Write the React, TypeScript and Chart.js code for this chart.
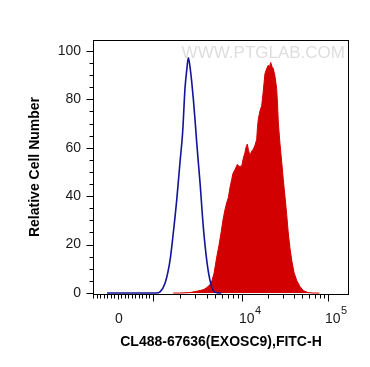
import React, { useEffect, useRef } from "react";
import { Chart, registerables } from "chart.js";

Chart.register(...registerables);

// ---- data (x in logicle display units: 10^4 -> 4, 10^5 -> 5) ----
const controlX = [2.43, 3.0, 3.047, 3.105, 3.163, 3.201, 3.241, 3.279, 3.31, 3.337, 3.357, 3.376, 3.395, 3.415, 3.434, 3.453, 3.473, 3.492, 3.512, 3.55, 3.59, 3.628, 3.666, 3.721, 3.76];
const controlY = [0, 0, 0.5, 4.0, 13.5, 24.8, 38.5, 54, 66.5, 84.4, 91.9, 97.2, 93.5, 87.3, 80.2, 71.9, 62.3, 54, 45.6, 27.3, 13.5, 5.2, 1, 0, 0];

const sampleX = [3.2, 3.279, 3.395, 3.453, 3.512, 3.558, 3.593, 3.628, 3.651, 3.674, 3.706, 3.733, 3.756, 3.779, 3.802, 3.822, 3.841, 3.86, 3.88, 3.895, 3.919, 3.945, 3.965, 3.997, 4.012, 4.035, 4.047, 4.062, 4.073, 4.093, 4.11, 4.131, 4.151, 4.171, 4.18, 4.19, 4.209, 4.229, 4.244, 4.267, 4.287, 4.306, 4.32, 4.334, 4.349, 4.364, 4.384, 4.403, 4.413, 4.422, 4.442, 4.462, 4.48, 4.5, 4.52, 4.538, 4.558, 4.578, 4.605, 4.636, 4.674, 4.713, 4.767, 4.826, 4.9];
const sampleY = [0, 0, 0.2, 0.6, 1.0, 1.5, 2.3, 3.5, 5.2, 8.0, 14.8, 19.8, 24.8, 30.2, 34.4, 37.3, 39.4, 43.5, 46.9, 49.4, 51.0, 53.1, 52.3, 52.4, 55.2, 58.1, 60.2, 61.5, 59.4, 56.6, 58.5, 59.4, 61.0, 63.5, 68.5, 71.9, 75.2, 77.4, 82.3, 90.6, 92.7, 94.1, 93.5, 95.2, 93.5, 92.7, 89.4, 84.4, 78.1, 70.6, 61.5, 54.0, 46.9, 39.8, 32.3, 24.8, 18.5, 13.5, 8.5, 5.2, 2.7, 1.0, 0.2, 0, 0];

const yTickValues = [0, 20, 40, 60, 80, 100];
const yMinorStep = 5;

const xLabelValues = [0, 10000, 100000];
const xLabelBase = ["0", "10", "10"];
const xLabelExp = ["", "4", "5"];
const xMajorValues = [0, 1000, 10000, 100000];

// axis calibration (value -> display units)
const anchorV = [0, 1000, 10000, 100000];
const anchorU = [2.558, 2.965, 4, 5];

const X_MIN = 2.2674;
const X_MAX = 5.2442;
const Y_MIN = -0.4;
const Y_MAX = 104.5;

const FONT = '"Liberation Sans", Arial, sans-serif';

function toDisplay(v: number): number {
  if (v <= anchorV[1]) {
    return anchorU[0] + (v / anchorV[1]) * (anchorU[1] - anchorU[0]);
  }
  for (let i = 1; i < anchorV.length - 1; i++) {
    if (v <= anchorV[i + 1]) {
      const t = Math.log10(v / anchorV[i]) / Math.log10(anchorV[i + 1] / anchorV[i]);
      return anchorU[i] + t * (anchorU[i + 1] - anchorU[i]);
    }
  }
  return anchorU[anchorU.length - 1] + Math.log10(v / anchorV[anchorV.length - 1]);
}

function minorTickValues(): number[] {
  const out: number[] = [];
  for (let k = -9; k <= 9; k++) if (k !== 0) out.push(k * 100);
  for (const d of [1000, 10000, 100000]) for (let k = 2; k <= 9; k++) out.push(k * d);
  return out;
}

const axesPlugin = {
  id: "flowAxes",
  beforeDatasetsDraw(chart: any) {
    const { ctx, chartArea: a } = chart;
    ctx.save();
    ctx.font = `17px ${FONT}`;
    ctx.fillStyle = "#dedede";
    ctx.textAlign = "right";
    ctx.textBaseline = "alphabetic";
    ctx.fillText("WWW.PTGLAB.COM", a.right - 4, a.top + 18);
    ctx.restore();
  },
  afterDraw(chart: any) {
    const { ctx, chartArea: a, scales } = chart;
    const xs = scales.x;
    const ys = scales.y;
    ctx.save();
    ctx.strokeStyle = "#000";
    ctx.lineWidth = 1;
    const L = Math.round(a.left), T = Math.round(a.top), R = Math.round(a.right), B = Math.round(a.bottom);
    ctx.strokeRect(L + 0.5, T + 0.5, R - L - 1, B - T);
    ctx.beginPath();
    for (let v = 0; v <= 100; v += yMinorStep) {
      const y = Math.round(ys.getPixelForValue(v)) + 0.5;
      const len = v % 20 === 0 ? 7 : 4;
      ctx.moveTo(L + 0.5 - len, y);
      ctx.lineTo(L + 0.5, y);
    }
    const drawX = (v: number, len: number) => {
      const px = Math.round(xs.getPixelForValue(toDisplay(v))) + 0.5;
      if (px < L || px > R) return;
      ctx.moveTo(px, B + 0.5);
      ctx.lineTo(px, B + 0.5 + len);
    };
    minorTickValues().forEach((v) => drawX(v, 4));
    xMajorValues.forEach((v) => drawX(v, v === 0 ? 5 : 7));
    ctx.stroke();

    ctx.fillStyle = "#1a1a1a";
    ctx.textAlign = "left";
    ctx.textBaseline = "alphabetic";
    xLabelValues.forEach((v, i) => {
      const px = xs.getPixelForValue(toDisplay(v));
      const x0 = px - 3;
      ctx.font = `14px ${FONT}`;
      ctx.fillText(xLabelBase[i], x0, B + 28.5);
      if (xLabelExp[i]) {
        const w = ctx.measureText(xLabelBase[i]).width;
        ctx.font = `11px ${FONT}`;
        ctx.fillText(xLabelExp[i], x0 + w + 0.5, B + 20);
      }
    });
    ctx.restore();
  },
};

export default function App() {
  const ref = useRef<HTMLCanvasElement>(null);
  useEffect(() => {
    const canvas = ref.current;
    if (!canvas) return;
    const chart = new Chart(canvas, {
      type: "line",
      data: {
        datasets: [
          {
            label: "Control",
            data: controlX.map((x, i) => ({ x, y: controlY[i] })),
            borderColor: "#14149a",
            borderWidth: 1.6,
            pointRadius: 0,
            fill: false,
            cubicInterpolationMode: "monotone",
          },
          {
            label: "CL488-67636",
            data: sampleX.map((x, i) => ({ x, y: sampleY[i] })),
            borderColor: "rgb(210,0,0)",
            backgroundColor: "rgb(210,0,0)",
            borderWidth: 1,
            pointRadius: 0,
            fill: "origin",
            tension: 0,
          },
        ],
      },
      options: {
        responsive: false,
        devicePixelRatio: 1,
        animation: false,
        events: [],
        layout: { padding: { left: 0, top: 40, right: 21, bottom: 0 } },
        plugins: { legend: { display: false }, tooltip: { enabled: false } },
        scales: {
          x: {
            type: "linear",
            min: X_MIN,
            max: X_MAX,
            grid: { display: false, drawTicks: false },
            border: { display: false },
            ticks: { display: false },
            title: {
              display: true,
              text: "CL488-67636(EXOSC9),FITC-H",
              color: "#000",
              font: { family: FONT, size: 14, weight: "bold" },
              padding: { top: 0, bottom: 16.6 },
            },
            afterFit: (s: any) => {
              s.height = 73;
            },
          },
          y: {
            type: "linear",
            min: Y_MIN,
            max: Y_MAX,
            grid: { display: false, drawTicks: false },
            border: { display: false },
            afterBuildTicks: (s: any) => {
              s.ticks = yTickValues.map((v) => ({ value: v }));
            },
            ticks: {
              color: "#1a1a1a",
              padding: 12,
              font: { family: FONT, size: 14 },
              callback: (v: any) => String(v),
            },
            title: {
              display: true,
              text: "Relative Cell Number",
              color: "#000",
              font: { family: FONT, size: 14, weight: "bold" },
              padding: { top: 26.6, bottom: 0 },
            },
            afterFit: (s: any) => {
              s.width = 93;
            },
          },
        },
      } as any,
      plugins: [axesPlugin],
    });
    return () => chart.destroy();
  }, []);
  return (
    <div style={{ position: "absolute", left: 0, top: 0, width: 370, height: 367, background: "#fff" }}>
      <canvas ref={ref} width={370} height={367} style={{ display: "block", width: 370, height: 367 }} />
    </div>
  );
}
